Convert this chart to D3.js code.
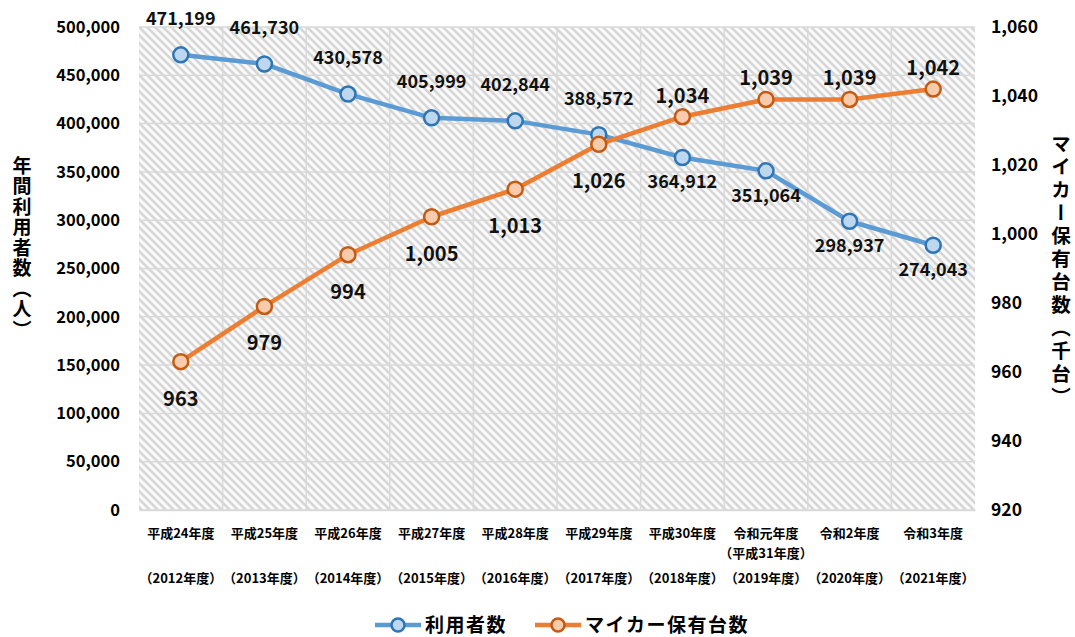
<!DOCTYPE html>
<html><head><meta charset="utf-8">
<script src="https://cdn.jsdelivr.net/npm/d3@7/dist/d3.min.js"></script>
<style>
body{margin:0;background:#fff;}
text{font-family:"Noto Sans CJK JP","Noto Sans",sans-serif;}
</style></head>
<body><svg id="c" width="1075" height="637"></svg>
<script>
const categories = ["平成24年度","平成25年度","平成26年度","平成27年度","平成28年度","平成29年度","平成30年度","令和元年度","令和2年度","令和3年度"];
const subLabels = ["","","","","","","","（平成31年度）","",""];
const yearLabels = ["（2012年度）","（2013年度）","（2014年度）","（2015年度）","（2016年度）","（2017年度）","（2018年度）","（2019年度）","（2020年度）","（2021年度）"];
const users = [471199,461730,430578,405999,402844,388572,364912,351064,298937,274043];
const cars = [963,979,994,1005,1013,1026,1034,1039,1039,1042];
const userLabelPos = ["above","above","above","above","above","above","below","below","below","below"];
const carLabelPos = ["below","below","below","below","below","below","above","above","above","above"];
const leftTicks = [0,50000,100000,150000,200000,250000,300000,350000,400000,450000,500000];
const rightTicks = [920,940,960,980,1000,1020,1040,1060];

const svg = d3.select("#c");
const L=139,R=975,T=27,B=510;
const x = d3.scaleBand().domain(categories).range([L,R]);
const yL = d3.scaleLinear().domain([0,500000]).range([B,T]);
const yR = d3.scaleLinear().domain([920,1060]).range([B,T]);
const fmt = d3.format(",");

const defs = svg.append("defs");
const pat = defs.append("pattern").attr("id","hatch").attr("patternUnits","userSpaceOnUse").attr("width",8).attr("height",8);
pat.append("rect").attr("width",8).attr("height",8).attr("fill","#fafafa");
pat.append("path").attr("d","M-2,-2 L10,10 M-2,6 L2,10 M6,-2 L10,2").attr("stroke","#d6d6d6").attr("stroke-width",2.6);

svg.append("rect").attr("x",L).attr("y",T).attr("width",R-L).attr("height",B-T).attr("fill","url(#hatch)");

// grid
svg.append("g").selectAll("line").data(leftTicks).join("line")
  .attr("x1",L).attr("x2",R).attr("y1",d=>yL(d)).attr("y2",d=>yL(d))
  .attr("stroke","#d9d9d9").attr("stroke-width",1.5);
svg.append("g").selectAll("line").data(categories.slice(1)).join("line")
  .attr("x1",d=>x(d)).attr("x2",d=>x(d)).attr("y1",T).attr("y2",B)
  .attr("stroke","#d9d9d9").attr("stroke-width",1.5);

// axes
const axL = d3.axisLeft(yL).tickValues(leftTicks).tickFormat(fmt).tickSize(0).tickPadding(19);
const gL = svg.append("g").attr("transform",`translate(${L},0)`).call(axL);
gL.select(".domain").remove();
gL.selectAll("text").attr("font-size",16.5).attr("font-weight","bold").attr("fill","#000").style("font-family","'Noto Sans CJK JP'");

const axR = d3.axisRight(yR).tickValues(rightTicks).tickFormat(fmt).tickSize(0).tickPadding(16);
const gR = svg.append("g").attr("transform",`translate(${R},0)`).call(axR);
gR.select(".domain").remove();
gR.selectAll("text").attr("font-size",17.5).attr("font-weight","bold").attr("fill","#000").style("font-family","'Noto Sans CJK JP'");

const axB = d3.axisBottom(x).tickSize(0).tickPadding(0);
const gB = svg.append("g").attr("transform",`translate(0,${B})`).call(axB);
gB.select(".domain").attr("stroke","#d9d9d9").attr("stroke-width",1.5);
gB.selectAll("text").remove();
gB.selectAll(".tick").each(function(d,i){
  const g=d3.select(this);
  const t=(y,s)=>g.append("text").attr("y",y).attr("text-anchor","middle").attr("font-size",13).attr("font-weight","bold").attr("fill","#000").text(s);
  t(28,d);
  if(subLabels[i]) t(48,subLabels[i]);
  t(73,yearLabels[i]);
});

// axis titles
svg.append("text").attr("x",22).attr("y",156).style("writing-mode","vertical-rl")
  .attr("font-size",19).attr("letter-spacing",1.5).attr("font-weight","bold").attr("fill","#000").text("年間利用者数（人）");
svg.append("text").attr("x",1061).attr("y",134).style("writing-mode","vertical-rl")
  .attr("font-size",19.5).attr("letter-spacing",3.5).attr("font-weight","bold").attr("fill","#000").text("マイカー保有台数（千台）");

const cx = d=>x(d)+x.bandwidth()/2;
const blue="#5B9BD5", blueDark="#2E75B6", blueFill="#BDD7EE";
const orange="#ED7D31", orangeDark="#C55A11", orangeFill="#F8CBAD";

const lineU = d3.line().x((d,i)=>cx(categories[i])).y(d=>yL(d));
const lineC = d3.line().x((d,i)=>cx(categories[i])).y(d=>yR(d));

svg.append("path").datum(users).attr("d",lineU).attr("fill","none").attr("stroke",blue).attr("stroke-width",4.5).attr("stroke-linejoin","round");
svg.append("path").datum(cars).attr("d",lineC).attr("fill","none").attr("stroke",orange).attr("stroke-width",4.5).attr("stroke-linejoin","round");

svg.append("g").selectAll("circle").data(users).join("circle")
  .attr("cx",(d,i)=>cx(categories[i])).attr("cy",d=>yL(d)).attr("r",7.5)
  .attr("fill",blueFill).attr("stroke",blueDark).attr("stroke-width",2.5);
svg.append("g").selectAll("circle").data(cars).join("circle")
  .attr("cx",(d,i)=>cx(categories[i])).attr("cy",d=>yR(d)).attr("r",7.5)
  .attr("fill",orangeFill).attr("stroke",orangeDark).attr("stroke-width",2.5);

svg.append("g").selectAll("text").data(users).join("text")
  .attr("x",(d,i)=>cx(categories[i])).attr("y",(d,i)=>yL(d)+(userLabelPos[i]==="above"?-30:31))
  .attr("text-anchor","middle").attr("font-size",18).attr("font-weight","bold").attr("fill","#111")
  .style("font-family","'Noto Sans CJK JP'").text(d=>fmt(d));
svg.append("g").selectAll("text").data(cars).join("text")
  .attr("x",(d,i)=>cx(categories[i])).attr("y",(d,i)=>yR(d)+(carLabelPos[i]==="above"?-14:44))
  .attr("text-anchor","middle").attr("font-size",20).attr("font-weight","bold").attr("fill","#111")
  .text(d=>fmt(d));

// legend
const leg = svg.append("g");
const items=[{t:"利用者数",c:blue,d:blueDark,f:blueFill,x:375},{t:"マイカー保有台数",c:orange,d:orangeDark,f:orangeFill,x:535}];
items.forEach(it=>{
  leg.append("line").attr("x1",it.x).attr("x2",it.x+46).attr("y1",625).attr("y2",625).attr("stroke",it.c).attr("stroke-width",4.5);
  leg.append("circle").attr("cx",it.x+23).attr("cy",625).attr("r",6.5).attr("fill",it.f).attr("stroke",it.d).attr("stroke-width",2.5);
  leg.append("text").attr("x",it.x+50).attr("y",632).attr("font-size",19).attr("font-weight","bold").attr("fill","#000").attr("letter-spacing",1.5).text(it.t);
});
</script></body></html>
